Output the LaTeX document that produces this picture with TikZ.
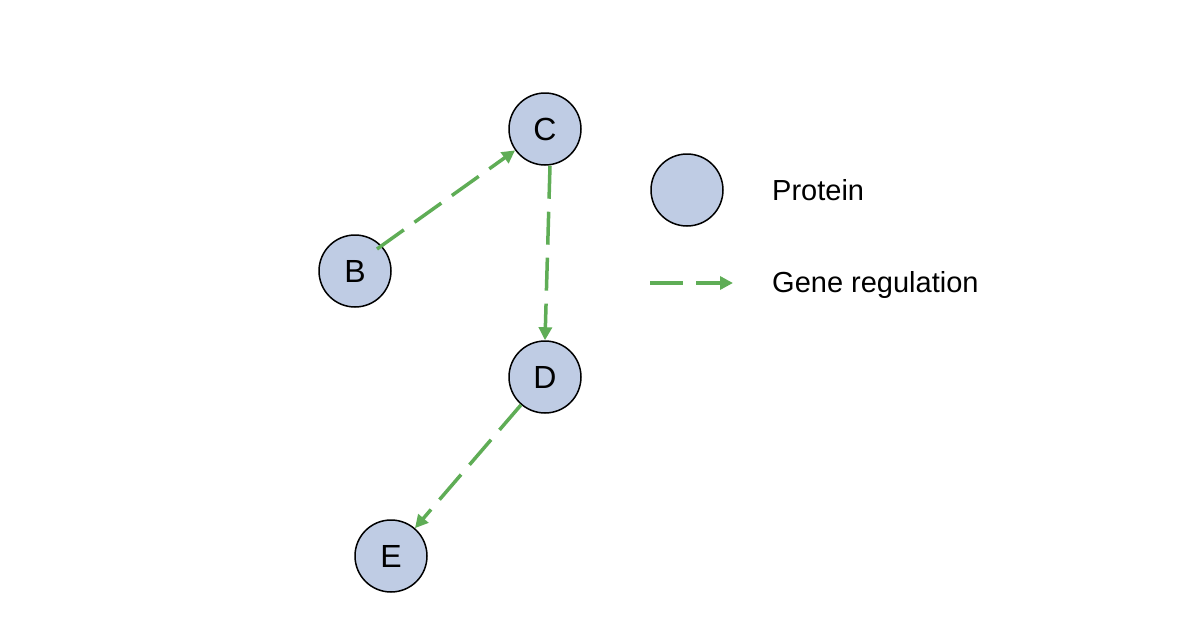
\documentclass[tikz,border=0pt]{standalone}
\usepackage{fontspec}
\setmainfont{Liberation Sans}
\usetikzlibrary{arrows.meta}
\definecolor{protfill}{HTML}{BFCCE4}
\definecolor{regc}{HTML}{5FAD56}
\begin{document}
\begin{tikzpicture}[x=1pt,y=-1pt,
  prot/.style={circle,draw=black,line width=1.5pt,fill=protfill,minimum size=72pt,inner sep=0pt,font=\fontsize{32}{38}\selectfont},
  reg/.style={draw=regc,line width=3.5pt,dash pattern=on 33pt off 13pt,-{Triangle[length=13pt,width=13pt]}},
  lbl/.style={anchor=west,inner sep=0pt,font=\fontsize{29}{34}\selectfont}]
\useasboundingbox (0,0) rectangle (1204,637);
\node[prot] (C) at (545,129) {C};
\node[prot] (B) at (355,271) {B};
\node[prot] (D) at (545,377) {D};
\node[prot] (E) at (391,556) {E};
\node[prot] (P) at (687,190) {};
\draw[reg] ([xshift=-4pt,yshift=-4pt]B.north east) -- (C);
\draw[reg] ([xshift=5pt]C.south) -- (D.north);
\draw[reg] (D) -- (E);
\coordinate (l1) at (650,283);
\coordinate (l2) at (733,283);
\draw[reg] (l1) -- (l2);
\node[lbl] (tp) at (772,190) {Protein};
\node[lbl] (tg) at (772,285) {Gene regulation};
\end{tikzpicture}
\end{document}
